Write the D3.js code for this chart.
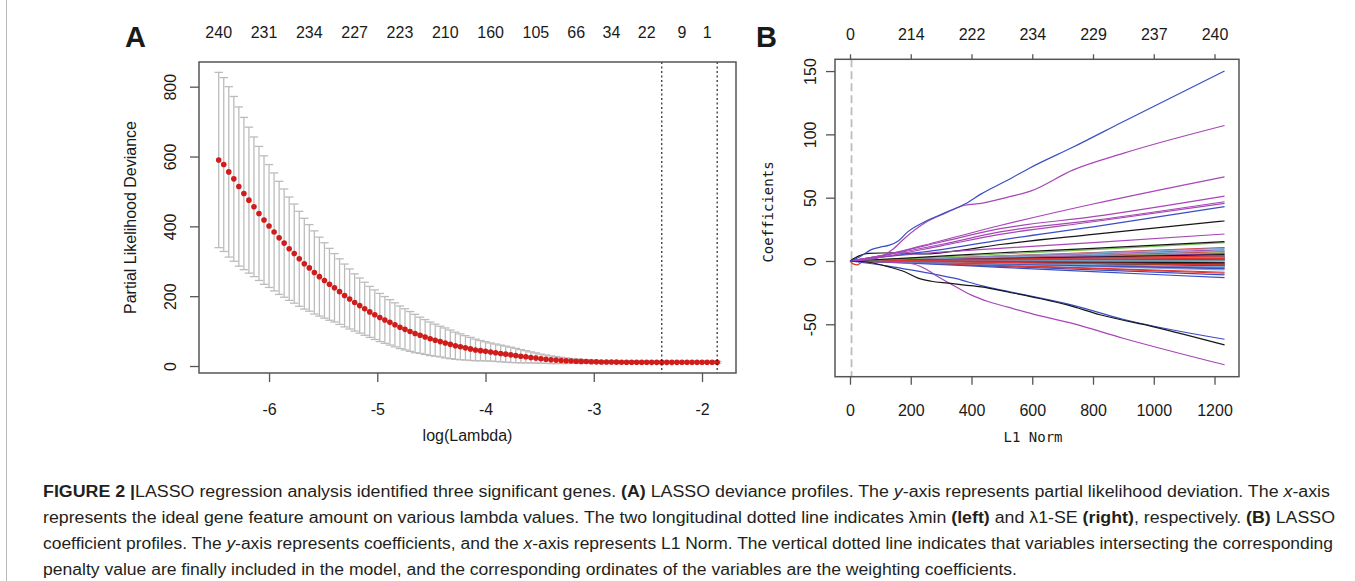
<!DOCTYPE html>
<html>
<head>
<meta charset="UTF-8" />
<title>LASSO regression analysis</title>
<script src="https://d3js.org/d3.v7.min.js"></script>
<style>
  body { margin: 0; background: #fff; }
  svg text { font-family: "Liberation Sans", Arial, sans-serif; fill: #1a1a1a; }
  .tick text { font-size: 16px; }
  .mono { font-family: "DejaVu Sans Mono", monospace !important; font-size: 14px; }
  .panel-tag { font-size: 29px; font-weight: bold; }
  .caption { font-family: "Liberation Sans Narrow", "Liberation Sans", sans-serif !important; font-size: 16px; fill: #231f20; }
</style>
</head>
<body>
<svg id="fig" width="1355" height="581"></svg>
<script>
  // ---- panel A : cross-validated partial likelihood deviance ----
  const logLambdaRange = [-6.465, -1.860];   // first and last of the 100 lambdas
  const cvm = [
    590, 577, 556, 536, 514, 494, 475, 456, 437, 418,
    401, 384, 367, 352, 336, 322, 307, 293, 281, 268,
    256, 245, 234, 224, 213, 202, 192, 182, 173, 164,
    155, 147, 139, 132, 125, 118, 111, 105, 99, 93,
    88, 83, 78, 74, 70, 66, 62, 58, 55, 52,
    49, 46, 44, 42, 40, 38, 36, 34, 32, 30,
    28, 26.5, 24.5, 23, 21, 19.5, 18, 17, 16, 15.2,
    14.5, 13.8, 13.2, 12.8, 12.4, 12, 11.7, 11.5, 11.3, 11.1,
    11, 10.9, 10.8, 10.7, 10.6, 10.6, 10.5, 10.5, 10.4, 10.5,
    10.5, 10.5, 10.6, 10.6, 10.6, 10.7, 10.7, 10.7, 10.8, 10.8
  ];
  const cvsd = [
    251, 249, 244, 236, 228, 218, 209, 200, 192, 184,
    176, 169, 162, 155, 148, 142, 136, 130, 124, 119,
    113, 108, 103, 98, 94, 90, 86, 82, 79, 76,
    73, 71, 69, 67, 65, 63, 61, 59, 57, 55,
    52, 50, 48, 46, 44, 43, 41, 39, 37, 35,
    33, 31, 29, 27.5, 26, 25, 24, 23, 22, 20.5,
    19, 17.5, 16, 14.5, 13, 12, 11, 10, 9, 8,
    7, 6.2, 5.5, 4.9, 4.4, 4, 3.7, 3.4, 3.2, 3,
    2.9, 2.8, 2.8, 2.7, 2.7, 2.7, 2.6, 2.6, 2.6, 2.6,
    2.6, 2.6, 2.6, 2.6, 2.6, 2.6, 2.6, 2.6, 2.6, 2.6
  ];
  const nzeroIdx = [0, 9, 18, 27, 36, 45, 54, 63, 71, 78, 85, 92, 97];
  const nzeroLab = [240, 231, 234, 227, 223, 210, 160, 105, 66, 34, 22, 9, 1];
  const lambdaMinIdx = 88, lambda1seIdx = 99;
  const xTicksA = [-6, -5, -4, -3, -2];
  const yTicksA = [0, 200, 400, 600, 800];

  // ---- panel B : coefficient paths ----
  const l1Ticks = [0, 200, 400, 600, 800, 1000, 1200];
  const dfTop = [0, 214, 222, 234, 229, 237, 240];
  const yTicksB = [-50, 0, 50, 100, 150];
  const selectedL1 = 5;
  // colour index as in matplot (1 black, 2 red, 3 green, 4 blue, 5 cyan, 6 magenta)
  const bandKnots = [0, 200, 494, 800, 1233];
  const bandPaths = [
    { col: 1, v: [0, 0.4, 1.2, 2.1, 3.5] },
    { col: 2, v: [0, 1.3, 4.0, 6.6, 10.5] },
    { col: 3, v: [0, 0.6, 1.7, 2.8, 4.5] },
    { col: 4, v: [0, 0.8, 2.3, 3.8, 6.0] },
    { col: 5, v: [0, 1.2, 3.8, 6.3, 10.0] },
    { col: 6, v: [0, 1.1, 3.3, 5.5, 8.7] },
    { col: 1, v: [0, 0.2, 0.6, 1.0, 1.5] },
    { col: 2, v: [0, 0.9, 2.8, 4.6, 7.4] },
    { col: 3, v: [0, 0.1, 0.4, 0.6, 1.0] },
    { col: 4, v: [0, 0.4, 1.1, 1.9, 3.0] },
    { col: 5, v: [0, 1.0, 3.0, 5.1, 8.0] },
    { col: 6, v: [0, 0.4, 1.1, 1.9, 3.0] },
    { col: 1, v: [0, -0.1, -0.4, -0.6, -1.0] },
    { col: 2, v: [0, 0.3, 0.8, 1.3, 2.0] },
    { col: 3, v: [0, -0.3, -0.8, -1.3, -2.0] },
    { col: 4, v: [0, -0.4, -1.3, -2.2, -3.5] },
    { col: 5, v: [0, 0.5, 1.5, 2.5, 4.0] },
    { col: 6, v: [0, -0.3, -0.9, -1.6, -2.5] },
    { col: 1, v: [0, -0.3, -1.0, -1.6, -2.5] },
    { col: 2, v: [0, -0.7, -2.2, -3.7, -5.8] },
    { col: 3, v: [0, -0.4, -1.3, -2.2, -3.5] },
    { col: 4, v: [0, -1.4, -4.2, -7.0, -11.0] },
    { col: 5, v: [0, 0.3, 0.9, 1.6, 2.5] },
    { col: 6, v: [0, 0.1, 0.4, 0.6, 1.0] },
    { col: 1, v: [0, 0.1, 0.2, 0.3, 0.5] },
    { col: 2, v: [0, -1.1, -3.4, -5.6, -8.9] },
    { col: 3, v: [0, 0, 1.6, 3.6, 6.5] },
    { col: 4, v: [0, -1.7, -5.0, -8.4, -13.2] },
    { col: 5, v: [0, -0.1, -0.4, -0.6, -1.0] },
    { col: 6, v: [0, -0.6, -1.9, -3.1, -5.0] },
    { col: 1, v: [0, -0.5, -1.6, -2.6, -4.0] },
    { col: 2, v: [0, -1.2, -3.7, -6.1, -9.7] },
    { col: 3, v: [0, 0, 0.2, 0.5, 0.8] },
    { col: 4, v: [0, 0.2, 0.6, 0.9, 1.5] },
    { col: 5, v: [0, -0.9, -2.7, -4.4, -7.0] },
    { col: 6, v: [0, 0.7, 2.1, 3.5, 5.5] },
    { col: 1, v: [0, 0.6, 1.8, 3.0, 5.0] },
    { col: 2, v: [0, -0.2, -0.6, -0.9, -1.5] },
    { col: 4, v: [0, -0.8, -2.3, -3.8, -6.0] },
    { col: 5, v: [0, -0.6, -1.7, -2.8, -4.5] },
    { col: 2, v: [0, 0.5, 1.5, 2.5, 4.0] },
    { col: 2, v: [0, -0.4, -1.1, -1.9, -3.0] },
    { col: 1, v: [0, 0, -0.3, -0.8, -1.4] },
    { col: 5, v: [0, 0, 0.1, 0.1, 0.2] }
  ];
  const mainPaths = [
    { col: 2, pts: [[0, 0], [12, -2.5], [25, -3], [40, -1], [200, 0.5], [1233, 2]] },
    { col: 1, pts: [[0, 0], [30, 4], [60, 6], [150, 6.5], [250, 5.5], [350, 8], [494, 13], [800, 21], [1233, 31.6]] },
    { col: 3, pts: [[0, 0], [200, 2], [494, 5.5], [800, 9], [1233, 14.5]] },
    { col: 1, pts: [[0, 0], [200, 2.5], [494, 6.5], [800, 10], [1233, 15.3]] },
    { col: 6, pts: [[0, 0], [100, 3], [300, 7], [494, 10], [800, 14.5], [1233, 21.3]] },
    { col: 4, pts: [[0, 0], [100, 3], [300, 9], [494, 16.5], [800, 27], [1233, 42.9]] },
    { col: 6, pts: [[0, 0], [100, 3], [300, 12], [494, 21], [800, 31], [1233, 45.5]] },
    { col: 6, pts: [[0, 0], [100, 4], [300, 13], [494, 23], [800, 32], [1233, 46.8]] },
    { col: 6, pts: [[0, 0], [100, 4], [300, 15], [494, 25.5], [800, 35], [1233, 51.3]] },
    { col: 6, pts: [[0, 0], [100, 4], [300, 16], [494, 28], [800, 45], [1233, 66.5]] },
    { col: 6, pts: [[0, 0], [200, -2], [246, -6], [290, -12.5], [345, -20], [400, -27], [454, -32], [520, -36.5], [603, -42], [735, -49.5], [899, -61], [1233, -82]] },
    { col: 4, pts: [[0, 0], [125, -4], [200, -7], [280, -10.5], [350, -14], [432, -19.5], [520, -24], [735, -35], [899, -46], [1233, -61.8]] },
    { col: 1, pts: [[0, 0], [60, -1], [125, -4.5], [180, -8.5], [224, -13.5], [268, -16], [323, -17.5], [377, -19], [432, -20.5], [520, -24.5], [735, -36], [823, -42.5], [1000, -52], [1233, -66.3]] },
    { col: 6, pts: [[0, 0], [60, 1], [100, 3], [140, 9], [180, 18], [246, 30], [312, 37.5], [378, 44], [432, 45.5], [520, 50.5], [592, 55], [735, 72], [899, 85], [1233, 107]] },
    { col: 4, pts: [[0, 0], [30, 3], [70, 9], [100, 11], [130, 12.5], [160, 16], [190, 23], [246, 31], [312, 38], [378, 45], [432, 53], [520, 64], [592, 73.5], [735, 90], [899, 110], [1233, 150]] }
  ];
  const palette = { 1: "#161616", 2: "#e0342c", 3: "#74c050", 4: "#3a4ec4", 5: "#78a8d4", 6: "#a746b6" };

  // ---- caption ----
  const captionLines = [
    [["FIGURE 2 |", "b"], ["LASSO regression analysis identified three significant genes. ", ""], ["(A)", "b"], [" LASSO deviance profiles. The ", ""], ["y", "i"], ["-axis represents partial likelihood deviation. The ", ""], ["x", "i"], ["-axis", ""]],
    [["represents the ideal gene feature amount on various lambda values. The two longitudinal dotted line indicates λmin ", ""], ["(left)", "b"], [" and λ1-SE ", ""], ["(right)", "b"], [", respectively. ", ""], ["(B)", "b"], [" LASSO", ""]],
    [["coefficient profiles. The ", ""], ["y", "i"], ["-axis represents coefficients, and the ", ""], ["x", "i"], ["-axis represents L1 Norm. The vertical dotted line indicates that variables intersecting the corresponding", ""]],
    [["penalty value are finally included in the model, and the corresponding ordinates of the variables are the weighting coefficients.", ""]]
  ];
  const captionWidths = [1287, 1292, 1290, 974];

  const svg = d3.select("#fig");
  svg.append("rect").attr("width", 1355).attr("height", 581).attr("fill", "#fff");
  svg.append("line").attr("x1", 6.5).attr("x2", 6.5).attr("y1", 0).attr("y2", 581)
    .attr("stroke", "#b8b8b8").attr("stroke-width", 1);

  const frameCol = "#555";
  const plain = d => String(d);   // R style hyphen minus

  // ================= panel A =================
  const A = { l: 199, r: 736, t: 62, b: 373 };
  const xA = d3.scaleLinear().domain([-6.647, -1.686]).range([A.l, A.r]);
  const yA = d3.scaleLinear().domain([-20, 870.7]).range([A.b, A.t]);
  const lam = d3.scaleLinear().domain([0, cvm.length - 1]).range(logLambdaRange);
  const rows = cvm.map((m, i) => ({ i, m, s: cvsd[i], x: lam(i) }));

  const gA = svg.append("g");
  const eb = gA.append("g").attr("stroke", "#bcbcbc").attr("stroke-width", 1.3);
  eb.selectAll(".v").data(rows).join("line")
    .attr("x1", d => xA(d.x)).attr("x2", d => xA(d.x))
    .attr("y1", d => yA(d.m + d.s)).attr("y2", d => yA(d.m - d.s));
  eb.selectAll(".cu").data(rows).join("line").attr("class", "cu")
    .attr("x1", d => xA(d.x) - 4.2).attr("x2", d => xA(d.x) + 4.2)
    .attr("y1", d => yA(d.m + d.s)).attr("y2", d => yA(d.m + d.s));
  eb.selectAll(".cl").data(rows).join("line").attr("class", "cl")
    .attr("x1", d => xA(d.x) - 4.2).attr("x2", d => xA(d.x) + 4.2)
    .attr("y1", d => yA(d.m - d.s)).attr("y2", d => yA(d.m - d.s));

  gA.selectAll("circle").data(rows).join("circle")
    .attr("cx", d => xA(d.x)).attr("cy", d => yA(d.m)).attr("r", 2.8)
    .attr("fill", "#d11c1c");

  [lambdaMinIdx, lambda1seIdx].forEach(k => {
    gA.append("line")
      .attr("x1", xA(lam(k))).attr("x2", xA(lam(k)))
      .attr("y1", A.t).attr("y2", A.b)
      .attr("stroke", "#111").attr("stroke-width", 1.1).attr("stroke-dasharray", "2,2.5");
  });

  gA.append("rect").attr("x", A.l).attr("y", A.t).attr("width", A.r - A.l).attr("height", A.b - A.t)
    .attr("fill", "none").attr("stroke", frameCol).attr("stroke-width", 1.5);

  gA.append("g").attr("transform", `translate(0,${A.b})`)
    .call(d3.axisBottom(xA).tickValues(xTicksA).tickSize(9).tickSizeOuter(0).tickPadding(22).tickFormat(plain));
  const ayA = gA.append("g").attr("transform", `translate(${A.l},0)`)
    .call(d3.axisLeft(yA).tickValues(yTicksA).tickSize(9).tickSizeOuter(0).tickFormat(plain));
  ayA.selectAll(".tick text").attr("transform", "rotate(-90)").attr("text-anchor", "middle")
    .attr("x", 0).attr("y", -23.3).attr("dy", 0);

  gA.selectAll(".toplab").data(nzeroIdx).join("text")
    .attr("x", k => xA(lam(k))).attr("y", 38).attr("text-anchor", "middle")
    .attr("font-size", 16).text((k, j) => nzeroLab[j]);

  gA.append("text").attr("x", (A.l + A.r) / 2).attr("y", 441).attr("text-anchor", "middle")
    .attr("font-size", 16).text("log(Lambda)");
  gA.append("text").attr("transform", `translate(136,${(A.t + A.b) / 2}) rotate(-90)`)
    .attr("text-anchor", "middle").attr("font-size", 16).text("Partial Likelihood Deviance");
  gA.append("text").attr("class", "panel-tag").attr("x", 125).attr("y", 47).text("A");

  // ================= panel B =================
  const B = { l: 835, r: 1239, t: 59.3, b: 376.7 };
  const xB = d3.scaleLinear().domain([-49.4, 1280.6]).range([B.l, B.r]);
  const yB = d3.scaleLinear().domain([-91.4, 159.3]).range([B.b, B.t]);
  const gB = svg.append("g");

  gB.append("line").attr("x1", xB(selectedL1)).attr("x2", xB(selectedL1))
    .attr("y1", B.t).attr("y2", B.b)
    .attr("stroke", "#bdbdbd").attr("stroke-width", 1.8).attr("stroke-dasharray", "8,4");

  const pathLine = d3.line().x(d => xB(d[0])).y(d => yB(d[1])).curve(d3.curveMonotoneX);
  gB.selectAll(".band").data(bandPaths).join("path").attr("class", "band")
    .attr("d", p => pathLine(bandKnots.map((k, j) => [k, p.v[j]])))
    .attr("fill", "none").attr("stroke", p => palette[p.col]).attr("stroke-width", 1.2);
  gB.selectAll(".main").data(mainPaths).join("path").attr("class", "main")
    .attr("d", p => pathLine(p.pts))
    .attr("fill", "none").attr("stroke", p => palette[p.col]).attr("stroke-width", 1.2);

  gB.append("rect").attr("x", B.l).attr("y", B.t).attr("width", B.r - B.l).attr("height", B.b - B.t)
    .attr("fill", "none").attr("stroke", frameCol).attr("stroke-width", 1.5);

  gB.append("g").attr("transform", `translate(0,${B.b})`)
    .call(d3.axisBottom(xB).tickValues(l1Ticks).tickSize(8).tickSizeOuter(0).tickPadding(20).tickFormat(plain));
  gB.append("g").attr("transform", `translate(0,${B.t})`)
    .call(d3.axisTop(xB).tickValues(l1Ticks).tickSize(5).tickSizeOuter(0).tickPadding(14)
      .tickFormat((d, j) => dfTop[j]));
  const ayB = gB.append("g").attr("transform", `translate(${B.l},0)`)
    .call(d3.axisLeft(yB).tickValues(yTicksB).tickSize(9).tickSizeOuter(0).tickFormat(plain));
  ayB.selectAll(".tick text").attr("transform", "rotate(-90)").attr("text-anchor", "middle")
    .attr("x", 0).attr("y", -19.3).attr("dy", 0);

  gB.append("text").attr("class", "mono").attr("x", 1033).attr("y", 442)
    .attr("text-anchor", "middle").text("L1 Norm");
  gB.append("text").attr("class", "mono").attr("transform", "translate(773,212) rotate(-90)")
    .attr("text-anchor", "middle").text("Coefficients");
  gB.append("text").attr("class", "panel-tag").attr("x", 756).attr("y", 47).text("B");

  svg.selectAll(".domain").remove();
  svg.selectAll(".tick line").attr("stroke", frameCol).attr("stroke-width", 1.3);
  svg.selectAll(".tick text").attr("fill", "#1a1a1a");

  // ================= caption =================
  const cap = svg.append("g");
  captionLines.forEach((segs, li) => {
    const t = cap.append("text").attr("class", "caption")
      .attr("x", 43).attr("y", 497 + li * 26)
      .attr("textLength", captionWidths[li]).attr("lengthAdjust", "spacingAndGlyphs");
    segs.forEach(([s, st]) => {
      const ts = t.append("tspan").text(s);
      if (st === "b") ts.attr("font-weight", "bold");
      if (st === "i") ts.attr("font-style", "italic");
    });
  });
</script>
</body>
</html>
